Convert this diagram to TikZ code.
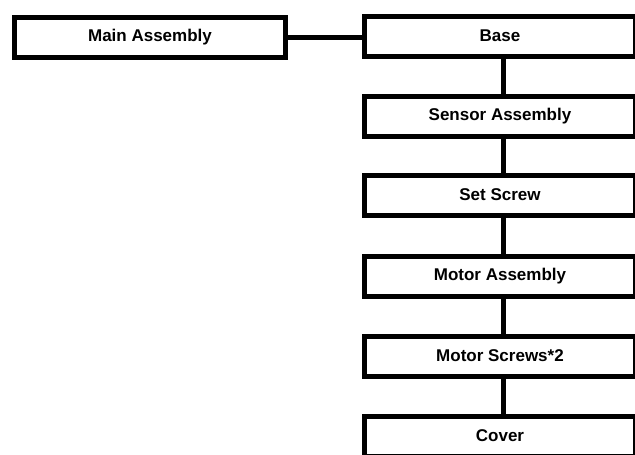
\documentclass[tikz,border=0pt]{standalone}
\usepackage{fontspec}
\setmainfont{Liberation Sans}
\begin{document}
\begin{tikzpicture}[x=1pt,y=-1pt,
  part/.style={draw, line width=5pt, fill=white, minimum width=271pt, minimum height=40pt,
    inner sep=0pt, font=\fontsize{17}{19}\selectfont\bfseries},
  link/.style={line width=5pt}]
\useasboundingbox (0,0) rectangle (635,455);
\clip (0,0) rectangle (635,455);
\node[part] (main)   at (150,37)  {Main Assembly};
\node[part] (base)   at (500,36)  {Base};
\node[part] (sensor) at (500,116) {Sensor Assembly};
\node[part] (set)    at (500,195) {Set Screw};
\node[part] (motor)  at (500,276) {Motor Assembly};
\node[part] (screws) at (500,356) {Motor Screws*2};
\node[part] (cover)  at (500,436) {Cover};
\coordinate (vx) at (503,0);
\draw[link] (main.east) -- (main.east -| base.west);
\draw[link] (base.south -| vx)   -- (sensor.north -| vx);
\draw[link] (sensor.south -| vx) -- (set.north -| vx);
\draw[link] (set.south -| vx)    -- (motor.north -| vx);
\draw[link] (motor.south -| vx)  -- (screws.north -| vx);
\draw[link] (screws.south -| vx) -- (cover.north -| vx);
\end{tikzpicture}
\end{document}
